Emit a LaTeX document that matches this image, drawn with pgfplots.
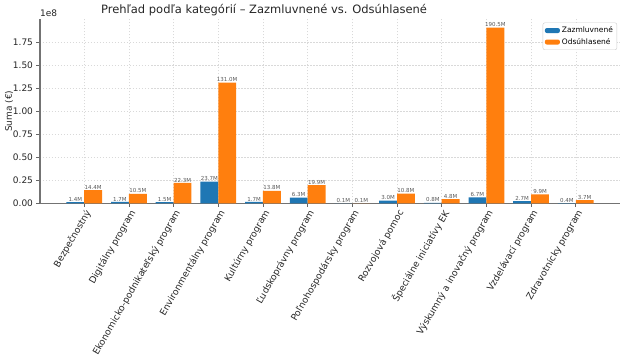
\documentclass[border=0pt]{standalone}
\usepackage{pgfplots}
\pgfplotsset{compat=1.18}
\usepackage{pgfplotstable}
\usepackage{fontspec}
\setmainfont{DejaVu Sans}
\definecolor{tabblue}{HTML}{1F77B4}
\definecolor{taborange}{HTML}{FF7F0E}
\pgfplotstableread{
x z o
0 1.4 14.4
1 1.7 10.5
2 1.5 22.3
3 23.7 131.0
4 1.7 13.8
5 6.3 19.9
6 0.1 0.1
7 3.0 10.8
8 0.8 4.8
9 6.7 190.5
10 2.7 9.9
11 0.4 3.7
}\data
\begin{document}
\begin{tikzpicture}
\begin{axis}[
  scale only axis, width=580pt, height=184.6pt,
  xmin=-0.99, xmax=11.99, ymin=0, ymax=200.025,
  xtick={0,...,11},
  xticklabels={Bezpečnostný, Digitálny program, Ekonomicko-podnikateľský program, Environmentálny program, Kultúrny program, Ľudskoprávny program, Poľnohospodársky program, Rozvojová pomoc, Špeciálne iniciatívy EK, Výskumný a inovačný program, Vzdelávací program, Zdravotnícky program},
  xticklabel style={rotate=60, anchor=north east, font=\fontsize{9.2}{10}\selectfont, text=black!85, inner sep=1pt},
  ytick={0,25,50,75,100,125,150,175},
  yticklabels={0.00,0.25,0.50,0.75,1.00,1.25,1.50,1.75},
  yticklabel style={font=\fontsize{9}{10}\selectfont, text=black!85},
  /pgf/number format/assume math mode=true,
  axis lines*=left,
  axis line style={line width=1.1pt, black!55},
  tick align=outside, major tick length=3.5pt,
  tick style={black!60, line width=0.6pt},
  grid=major,
  major grid style={black!15, dash pattern=on 1.5pt off 1.5pt, line width=0.5pt},
  bar width=17.87pt,
  nodes near coords={\pgfmathprintnumber[fixed,fixed zerofill,precision=1]{\pgfplotspointmeta}M},
  nodes near coords style={font=\fontsize{5.5}{6}\selectfont, text=black!65, inner sep=0.6pt, anchor=south},
  legend style={at={(0.995,0.98)}, anchor=north east, font=\fontsize{7.5}{9}\selectfont, draw=black!20, rounded corners=2pt, row sep=0pt, inner sep=2pt, cells={anchor=west}},
]
\addplot[ybar, fill=tabblue, draw=none, bar shift=-8.94pt,
  every node near coord/.append style={xshift=-8.94pt},
  legend image code/.code={\fill[tabblue] (0pt,-2.5pt) rectangle (15pt,2.5pt);}] table[x=x,y=z] {\data};
\addlegendentry{Zazmluvnené}
\addplot[ybar, fill=taborange, draw=none, bar shift=8.94pt,
  every node near coord/.append style={xshift=8.94pt},
  legend image code/.code={\fill[taborange] (0pt,-2.5pt) rectangle (15pt,2.5pt);}] table[x=x,y=o] {\data};
\addlegendentry{Odsúhlasené}
\end{axis}
\node[rotate=90, anchor=center, font=\fontsize{9}{10}\selectfont, text=black!85, inner sep=0pt] at (-31pt,92.3pt) {Suma (€)};
\node[anchor=base west, font=\fontsize{9}{10}\selectfont, text=black!85, inner sep=0pt] at (0pt,186.6pt) {1e8};
\node[anchor=base, font=\fontsize{11.5}{13}\selectfont, text=black!85, inner sep=0pt] at (224pt,189.6pt) {Prehľad podľa kategórií – Zazmluvnené vs. Odsúhlasené};
\path (-40pt,-149.5pt) rectangle (585pt,203.5pt);
\end{tikzpicture}
\end{document}
